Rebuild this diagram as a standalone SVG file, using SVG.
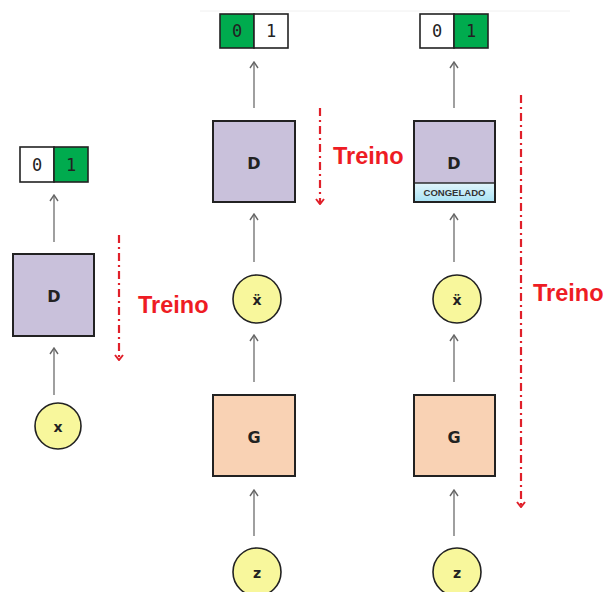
<svg xmlns="http://www.w3.org/2000/svg" width="603" height="592" viewBox="0 0 603 592">
<defs>
<marker id="ah" viewBox="0 0 10 10" refX="9" refY="5" markerWidth="10" markerHeight="10" markerUnits="userSpaceOnUse" orient="auto">
<path d="M3,1 L9,5 L3,9" fill="none" stroke="#666" stroke-width="1.4"/>
</marker>
<marker id="rh" viewBox="0 0 10 10" refX="9" refY="5" markerWidth="10" markerHeight="10" markerUnits="userSpaceOnUse" orient="auto">
<path d="M4,1 L9,5 L4,9" fill="none" stroke="#e0202a" stroke-width="2"/>
</marker>
<linearGradient id="ice" x1="0" y1="0" x2="0" y2="1">
<stop offset="0" stop-color="#e2f6fc"/>
<stop offset="1" stop-color="#a8e2f4"/>
</linearGradient>
</defs>
<style>
.box{stroke:#222;stroke-width:2}
.d{fill:#c9c1db}
.g{fill:#f9d2b4}
.c{fill:#f8f79c;stroke:#222;stroke-width:1.6}
.cell{stroke:#222;stroke-width:1.6}
.on{fill:#00ab4e}
.off{fill:#fff}
.lbl{font-family:"DejaVu Sans","Liberation Sans",Arial,sans-serif;font-weight:bold;fill:#222;text-anchor:middle}
.num{font-family:"DejaVu Sans Mono","Liberation Mono",monospace;font-size:17px;fill:#222;text-anchor:middle}
.conn line{stroke:#777;stroke-width:1.4}
.red{stroke:#e0202a;stroke-width:2.2;stroke-dasharray:8 4 2 4;fill:none}
.tr{font-family:"Liberation Sans",Arial,sans-serif;font-weight:bold;font-size:23.5px;fill:#ee1c24}
</style>
<rect width="603" height="592" fill="#fff"/>
<line x1="200" y1="11" x2="570" y2="11" stroke="#f0f0f0" stroke-width="1"/>

<g id="connectors" class="conn">
<line x1="54" y1="242" x2="54" y2="195" marker-end="url(#ah)"/>
<line x1="54" y1="395" x2="54" y2="348" marker-end="url(#ah)"/>
<line x1="254" y1="108" x2="254" y2="62" marker-end="url(#ah)"/>
<line x1="254" y1="262" x2="254" y2="214" marker-end="url(#ah)"/>
<line x1="254" y1="382" x2="254" y2="335" marker-end="url(#ah)"/>
<line x1="254" y1="536" x2="254" y2="490" marker-end="url(#ah)"/>
<line x1="454" y1="108" x2="454" y2="62" marker-end="url(#ah)"/>
<line x1="454" y1="262" x2="454" y2="214" marker-end="url(#ah)"/>
<line x1="454" y1="382" x2="454" y2="335" marker-end="url(#ah)"/>
<line x1="454" y1="536" x2="454" y2="490" marker-end="url(#ah)"/>
</g>

<g id="train1">
<line class="red" x1="119" y1="235" x2="119" y2="360" marker-end="url(#rh)"/>
<text class="tr" x="138" y="313">Treino</text>
</g>
<g id="train2">
<line class="red" x1="320" y1="108" x2="320" y2="204" marker-end="url(#rh)"/>
<text class="tr" x="333" y="164">Treino</text>
</g>
<g id="train3">
<line class="red" x1="521" y1="95" x2="521" y2="507" marker-end="url(#rh)"/>
<text class="tr" x="533" y="301">Treino</text>
</g>

<!-- Column 1 -->
<g id="out1">
<rect class="cell off" x="20" y="147" width="34" height="35"/>
<rect class="cell on" x="54" y="147" width="34" height="35"/>
<text class="num" x="37" y="171">0</text>
<text class="num" x="71" y="171">1</text>
</g>
<g id="D1">
<rect class="box d" x="13" y="254" width="81" height="82"/>
<text class="lbl" x="54" y="302" font-size="16">D</text>
</g>
<g id="x1">
<circle class="c" cx="58" cy="426" r="23"/>
<text class="lbl" x="58" y="432" font-size="14">x</text>
</g>

<!-- Column 2 -->
<g id="out2">
<rect class="cell on" x="220" y="14" width="34" height="34"/>
<rect class="cell off" x="254" y="14" width="34" height="34"/>
<text class="num" x="237" y="37">0</text>
<text class="num" x="271" y="37">1</text>
</g>
<g id="D2">
<rect class="box d" x="213" y="121" width="82" height="81"/>
<text class="lbl" x="254" y="169" font-size="16">D</text>
</g>
<g id="xg2">
<circle class="c" cx="257" cy="299" r="24"/>
<text class="lbl" x="257" y="305" font-size="14">ẍ</text>
</g>
<g id="G2">
<rect class="box g" x="213" y="395" width="82" height="81"/>
<text class="lbl" x="254" y="443" font-size="16">G</text>
</g>
<g id="z2">
<circle class="c" cx="257" cy="572" r="24"/>
<text class="lbl" x="257" y="578" font-size="14">z</text>
</g>

<!-- Column 3 -->
<g id="out3">
<rect class="cell off" x="420" y="14" width="34" height="34"/>
<rect class="cell on" x="454" y="14" width="34" height="34"/>
<text class="num" x="437" y="37">0</text>
<text class="num" x="471" y="37">1</text>
</g>
<g id="D3">
<rect class="box d" x="414" y="121" width="81" height="81"/>
<rect x="414" y="183" width="81" height="19" fill="url(#ice)" stroke="#222" stroke-width="1.4"/>
<rect x="414" y="121" width="81" height="81" fill="none" stroke="#222" stroke-width="2"/>
<text class="lbl" x="454" y="169" font-size="16">D</text>
<text x="454.5" y="196" text-anchor="middle" font-family="Liberation Sans Narrow,Liberation Sans,Arial,sans-serif" font-size="8.5" font-weight="bold" fill="#333" textLength="62" lengthAdjust="spacingAndGlyphs">CONGELADO</text>
</g>
<g id="xg3">
<circle class="c" cx="457" cy="299" r="24"/>
<text class="lbl" x="457" y="305" font-size="14">ẍ</text>
</g>
<g id="G3">
<rect class="box g" x="414" y="395" width="81" height="81"/>
<text class="lbl" x="454" y="443" font-size="16">G</text>
</g>
<g id="z3">
<circle class="c" cx="457" cy="572" r="24"/>
<text class="lbl" x="457" y="578" font-size="14">z</text>
</g>
</svg>
